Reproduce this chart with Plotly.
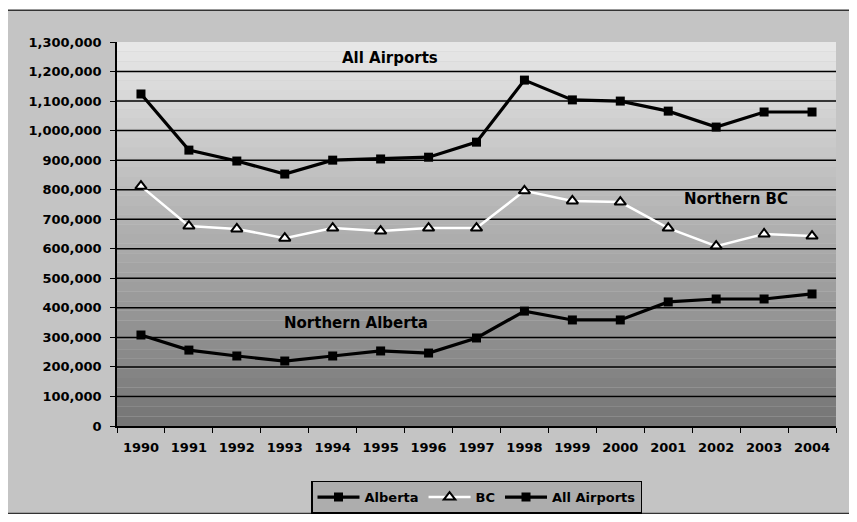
"""Northern airport passenger traffic, 1990-2004."""

import plotly.graph_objects as go

YEARS = [str(y) for y in range(1990, 2005)]

ALBERTA = [308000, 257000, 237000, 220000, 237000, 254000, 247000, 298000,
           389000, 359000, 359000, 420000, 430000, 430000, 447000]
BC = [812000, 677000, 667000, 636000, 670000, 660000, 670000, 670000,
      796000, 762000, 758000, 670000, 609000, 650000, 643000]
ALL_AIRPORTS = [1124000, 934000, 897000, 853000, 900000, 904000, 910000, 961000,
                1171000, 1104000, 1100000, 1066000, 1012000, 1063000, 1063000]

Y_MAX = 1300000
Y_STEP = 100000

FONT = "DejaVu Sans"


def _grey(level: int) -> str:
    return f"rgb({level},{level},{level})"


fig = go.Figure()
fig.add_trace(
    go.Scatter(
        x=YEARS, y=ALBERTA, name="Alberta", mode="lines+markers",
        line=dict(color="black", width=3.2),
        marker=dict(symbol="square", size=9, color="black"),
    )
)
fig.add_trace(
    go.Scatter(
        x=YEARS, y=BC, name="BC", mode="lines+markers",
        line=dict(color="white", width=2.5),
        marker=dict(symbol="triangle-up", size=10, color="white",
                    line=dict(color="black", width=2)),
    )
)
fig.add_trace(
    go.Scatter(
        x=YEARS, y=ALL_AIRPORTS, name="All Airports", mode="lines+markers",
        line=dict(color="black", width=3.2),
        marker=dict(symbol="square", size=9, color="black"),
    )
)

# outer chart frame plus a banded grey gradient behind the plot area
shapes = [
    dict(type="rect", xref="paper", yref="paper", x0=-0.153, x1=1.024,
         y0=-0.228, y1=1.083, fillcolor="#c4c4c4",
         line=dict(color="#333333", width=1.5), layer="below")
]
n_bands = 40
top, bottom = 232, 116
for i in range(n_bands):
    level = round(bottom + (top - bottom) * (i + 0.5) / n_bands)
    shapes.append(
        dict(type="rect", xref="paper", yref="paper", x0=0, x1=1,
             y0=i / n_bands, y1=(i + 1) / n_bands, fillcolor=_grey(level),
             line_width=0, layer="below")
    )
# gridlines (none along the top edge of the plot area)
for v in range(Y_STEP, Y_MAX, Y_STEP):
    shapes.append(
        dict(type="line", xref="paper", yref="y", x0=0, x1=1, y0=v, y1=v,
             line=dict(color="black", width=1.5), layer="below")
    )

label_font = dict(family=FONT, size=15, color="black", weight="bold")
annotations = [
    dict(x=5.2, y=1246000, text="All Airports", showarrow=False, font=label_font),
    dict(x=12.41, y=768000, text="Northern BC", showarrow=False, font=label_font),
    dict(x=4.49, y=349000, text="Northern Alberta", showarrow=False, font=label_font),
]

# page body keeps its default 8px margin, so the figure is 16px smaller
fig.update_layout(
    width=841,
    height=506,
    margin=dict(l=109, r=13, t=34, b=88, autoexpand=False),
    paper_bgcolor="white",
    plot_bgcolor="rgba(0,0,0,0)",
    font=dict(family=FONT, size=13, color="black", weight="bold"),
    shapes=shapes,
    annotations=annotations,
    showlegend=True,
    legend=dict(
        orientation="h", x=0.5, xanchor="center",
        yref="container", y=0.066, yanchor="top", itemwidth=42,
        bgcolor="#adadad", bordercolor="black", borderwidth=1.5,
        font=dict(family=FONT, size=13, color="black", weight="bold"),
    ),
    xaxis=dict(
        type="category", range=[-0.5, 14.5], tickson="boundaries",
        ticks="outside", ticklen=5, tickcolor="black", ticklabelstandoff=8,
        showline=True, linecolor="black", linewidth=2, showgrid=False,
    ),
    yaxis=dict(
        range=[0, Y_MAX], dtick=Y_STEP, tickformat=",",
        ticks="outside", ticklen=5, tickcolor="black", ticklabelstandoff=6,
        showline=True, linecolor="black", linewidth=1.5,
        showgrid=False, zeroline=False,
    ),
)

fig.write_html("out.html")
